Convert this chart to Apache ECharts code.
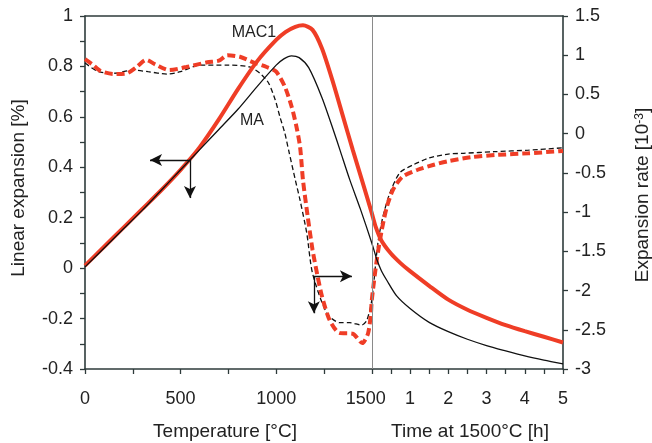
<!DOCTYPE html>
<html>
<head>
<meta charset="utf-8">
<script src="https://cdn.jsdelivr.net/npm/echarts@6/dist/echarts.min.js"></script>
<style>
html,body{margin:0;padding:0;background:#fff;}
#chart{width:652px;height:443px;}
</style>
</head>
<body>
<div id="chart"></div>
<script>
// ---- data ----
// heating segment: [temperature °C, value]; dwell segment: [time h, value]
const MAC1_expansion_heating = [[0,0.01],[100,0.085],[200,0.16],[300,0.235],[400,0.31],[500,0.39],[600,0.48],[700,0.59],[800,0.71],[900,0.82],[1000,0.905],[1050,0.937],[1100,0.957],[1140,0.963],[1190,0.945],[1240,0.87],[1300,0.73],[1350,0.6],[1400,0.47],[1450,0.345],[1500,0.218]];
const MAC1_expansion_dwell = [[0.1,0.165],[0.25,0.11],[0.5,0.058],[0.75,0.02],[1,-0.012],[1.5,-0.07],[2,-0.125],[2.5,-0.165],[3,-0.197],[3.5,-0.226],[4,-0.25],[4.5,-0.272],[5,-0.295]];
const MA_expansion_heating = [[0,0.005],[100,0.08],[200,0.155],[300,0.23],[400,0.31],[500,0.39],[600,0.47],[700,0.55],[800,0.63],[900,0.72],[1000,0.805],[1040,0.83],[1080,0.842],[1120,0.835],[1170,0.795],[1240,0.675],[1300,0.545],[1335,0.465],[1385,0.35],[1440,0.235],[1500,0.1]];
const MA_expansion_dwell = [[0.13,0.035],[0.25,-0.01],[0.4,-0.05],[0.65,-0.11],[1,-0.16],[1.5,-0.215],[2,-0.252],[2.5,-0.282],[3,-0.307],[3.5,-0.328],[4,-0.348],[4.5,-0.365],[5,-0.38]];
const MAC1_rate_heating = [[0,0.95],[40,0.88],[80,0.8],[150,0.76],[220,0.77],[270,0.85],[320,0.94],[370,0.88],[440,0.81],[530,0.85],[640,0.91],[700,0.93],[745,1.0],[810,0.98],[880,0.91],[950,0.85],[1000,0.79],[1045,0.6],[1080,0.35],[1105,0.1],[1125,-0.17],[1140,-0.59],[1165,-1.06],[1190,-1.48],[1215,-1.8],[1240,-2.08],[1280,-2.38],[1330,-2.54],[1400,-2.55],[1450,-2.67],[1480,-2.55],[1495,-2.3],[1500,-2.12]];
const MAC1_rate_dwell = [[0.13,-1.61],[0.26,-1.23],[0.39,-0.94],[0.55,-0.72],[0.8,-0.55],[1.2,-0.46],[1.6,-0.4],[2,-0.35],[2.6,-0.3],[3.3,-0.27],[4.1,-0.25],[5,-0.22]];
const MA_rate_heating = [[0,0.9],[70,0.79],[150,0.77],[250,0.81],[330,0.79],[430,0.76],[500,0.79],[600,0.875],[750,0.875],[860,0.85],[915,0.77],[960,0.646],[995,0.43],[1020,0.21],[1045,0.008],[1065,-0.21],[1100,-0.59],[1125,-0.85],[1160,-1.27],[1190,-1.78],[1265,-2.29],[1333,-2.41],[1385,-2.41],[1448,-2.44],[1474,-2.38],[1500,-2.12]];
const MA_rate_dwell = [[0.16,-1.39],[0.29,-1.06],[0.47,-0.76],[0.73,-0.5],[1.07,-0.4],[1.5,-0.31],[2,-0.26],[2.4,-0.25],[3.2,-0.23],[4.1,-0.21],[5,-0.18]];

const TEMP_END = 1500;      // end of heating segment (°C)
const HOUR_SPAN = 200;      // axis units per hour in dwell segment
const tempTicks = [0,250,500,750,1000,1250,1500];
const tempLabels = [0,500,1000,1500];
const hourTicks = [0.5,1,1.5,2,2.5,3,3.5,4,4.5,5];
const hourLabels = [1,2,3,4,5];

// ---- build ----
const hx = h => TEMP_END + HOUR_SPAN*h;
const join = (heat, dwell) => heat.concat(dwell.map(p => [hx(p[0]), p[1]]));
const xTickValues = tempTicks.concat(hourTicks.map(hx));
const xLabelValues = tempLabels.concat(hourLabels.map(hx));

const RED = '#ef3d26';
const BLACK = '#111';
const AX = '#2e3b3b';
const FONT = 'Liberation Sans, Arial, sans-serif';

const chart = echarts.init(document.getElementById('chart'));
chart.setOption({
  animation:false,
  backgroundColor:'#fff',
  grid:{left:85,right:89,top:16,bottom:74},
  xAxis:[{
    type:'value',min:0,max:TEMP_END+HOUR_SPAN*5,position:'bottom',
    axisLine:{onZero:false,lineStyle:{color:AX,width:1.6}},
    axisTick:{customValues:xTickValues,length:5,lineStyle:{color:AX,width:1.3}},
    axisLabel:{customValues:xLabelValues,fontSize:18,color:'#222',fontFamily:FONT,margin:21,
      rich:{r:{fontSize:18,color:'#222',fontFamily:FONT,padding:[0,12,0,0]}},
      formatter:v => v===TEMP_END ? '{r|'+v+'}' : (v<TEMP_END ? String(v) : String(Math.round((v-TEMP_END)/HOUR_SPAN)))},
    splitLine:{show:false}
  },{
    type:'value',min:0,max:TEMP_END+HOUR_SPAN*5,position:'top',
    axisLine:{show:true,onZero:false,lineStyle:{color:AX,width:1.6}},
    axisTick:{show:false},axisLabel:{show:false},splitLine:{show:false}
  }],
  yAxis:[{
    type:'value',min:-0.4,max:1,interval:0.2,position:'left',
    axisLine:{show:true,onZero:false,lineStyle:{color:AX,width:1.6}},
    axisTick:{show:true,length:5,lineStyle:{color:AX,width:1.3}},
    minorTick:{show:true,splitNumber:2,length:5,lineStyle:{color:AX,width:1.3}},
    axisLabel:{fontSize:18,color:'#222',fontFamily:FONT,margin:12},
    splitLine:{show:false}
  },{
    type:'value',min:-3,max:1.5,interval:0.5,position:'right',
    axisLine:{show:true,onZero:false,lineStyle:{color:AX,width:1.6}},
    axisTick:{show:true,length:5,lineStyle:{color:AX,width:1.3}},
    axisLabel:{fontSize:18,color:'#222',fontFamily:FONT,margin:12},
    splitLine:{show:false}
  }],
  series:[
    {name:'MA rate',type:'line',yAxisIndex:1,data:join(MA_rate_heating,MA_rate_dwell),
      smooth:0.25,showSymbol:false,lineStyle:{color:BLACK,width:1.3,type:[5,3]},
      markLine:{silent:true,symbol:'none',label:{show:false},
        lineStyle:{color:'#8a8a8a',width:1,type:'solid'},data:[{xAxis:TEMP_END}]}},
    {name:'MAC1 rate',type:'line',yAxisIndex:1,data:join(MAC1_rate_heating,MAC1_rate_dwell),
      smooth:0.25,showSymbol:false,lineStyle:{color:RED,width:4,type:[8,4]}},
    {name:'MAC1',type:'line',yAxisIndex:0,data:join(MAC1_expansion_heating,MAC1_expansion_dwell),
      smooth:0.25,showSymbol:false,lineStyle:{color:RED,width:4}},
    {name:'MA',type:'line',yAxisIndex:0,data:join(MA_expansion_heating,MA_expansion_dwell),
      smooth:0.25,showSymbol:false,lineStyle:{color:BLACK,width:1.3},
      markLine:{silent:true,symbol:['none','arrow'],symbolSize:[9,12],label:{show:false},
        lineStyle:{color:BLACK,width:1.3,type:'solid'},
        data:[
          [{coord:[549,0.429]},{coord:[340,0.429]}],
          [{coord:[549,0.429]},{coord:[549,0.278]}],
          [{coord:[1197,-0.032]},{coord:[1396,-0.032]}],
          [{coord:[1197,-0.032]},{coord:[1197,-0.179]}]
        ]}}
  ],
  graphic:[
    {type:'text',x:225,y:432,style:{text:'Temperature [°C]',font:'19px '+FONT,fill:'#222',align:'center',verticalAlign:'middle'}},
    {type:'text',x:470,y:432,style:{text:'Time at 1500°C [h]',font:'19px '+FONT,fill:'#222',align:'center',verticalAlign:'middle'}},
    {type:'text',x:19,y:188,rotation:Math.PI/2,style:{text:'Linear expansion [%]',font:'19px '+FONT,fill:'#222',align:'center',verticalAlign:'middle'}},
    {type:'text',x:643,y:195,rotation:Math.PI/2,style:{text:'{a|Expansion rate [10}{s|-3}{a|]}',align:'center',verticalAlign:'middle',
      rich:{a:{fontSize:19,fontFamily:FONT,fill:'#222',verticalAlign:'bottom'},s:{fontSize:12,fontFamily:FONT,fill:'#222',verticalAlign:'top'}}}},
    {type:'text',x:254,y:33,style:{text:'MAC1',font:'16px '+FONT,fill:'#222',align:'center',verticalAlign:'middle'}},
    {type:'text',x:252,y:121,style:{text:'MA',font:'16px '+FONT,fill:'#222',align:'center',verticalAlign:'middle'}}
  ]
});
</script>
</body>
</html>
